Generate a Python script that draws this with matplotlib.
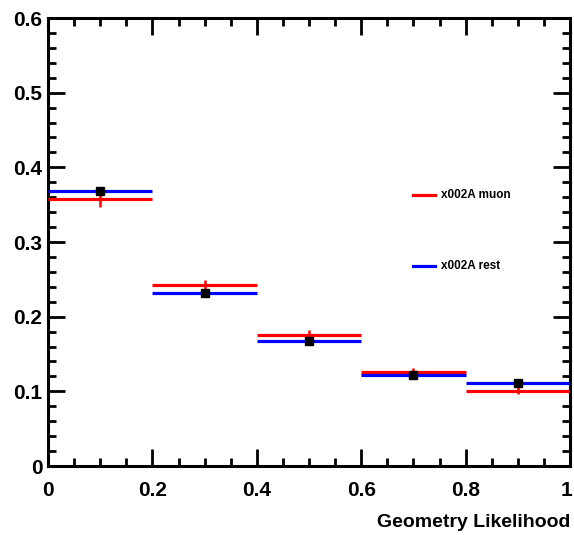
import matplotlib
matplotlib.use("Agg")
import matplotlib.pyplot as plt
from matplotlib.lines import Line2D
from matplotlib.ticker import MultipleLocator
import matplotlib.transforms as mtransforms
import numpy as np

bin_edges = [0.0, 0.2, 0.4, 0.6, 0.8, 1.0]
muon_vals = [0.357, 0.242, 0.176, 0.126, 0.101]
muon_errs = [0.010, 0.007, 0.006, 0.005, 0.005]
rest_vals = [0.368, 0.232, 0.167, 0.122, 0.111]
rest_errs = [0.005, 0.004, 0.004, 0.003, 0.004]
legend_labels = ["x002A muon", "x002A rest"]
xticks = [0, 0.2, 0.4, 0.6, 0.8, 1]
xtick_labels = ["0", "0.2", "0.4", "0.6", "0.8", "1"]
yticks = [0, 0.1, 0.2, 0.3, 0.4, 0.5, 0.6]
ytick_labels = ["0", "0.1", "0.2", "0.3", "0.4", "0.5", "0.6"]

plt.rcParams['font.family'] = ['Liberation Sans', 'DejaVu Sans']
plt.rcParams['font.weight'] = 'bold'

fig = plt.figure(figsize=(5.74, 5.35), dpi=100)
ax = fig.add_axes([48/574, (535-466)/535, 522/574, 448/535])

edges = np.array(bin_edges)
lo, hi = edges[:-1], edges[1:]
centers = (lo + hi) / 2

ax.hlines(muon_vals, lo, hi, colors='#ff0000', lw=2.3, zorder=3)
ax.errorbar(centers, muon_vals, yerr=muon_errs, fmt='none', ecolor='#ff0000', elinewidth=1.8, zorder=3)
ax.hlines(rest_vals, lo, hi, colors='#0000ff', lw=2.3, zorder=4)
ax.errorbar(centers, rest_vals, yerr=rest_errs, fmt='s', color='black', ms=6, elinewidth=1.5, zorder=5)

ax.set_xlim(0, 1)
ax.set_ylim(0, 0.6)
ax.set_xticks(xticks)
ax.set_xticklabels(xtick_labels)
ax.set_yticks(yticks)
ax.set_yticklabels(ytick_labels)
ax.xaxis.set_minor_locator(MultipleLocator(0.05))
ax.yaxis.set_minor_locator(MultipleLocator(0.02))
ax.tick_params(which='both', direction='in', top=True, right=True, width=2, labelsize=15, colors='black')
ax.tick_params(which='major', length=12)
ax.tick_params(which='minor', length=6)
ax.tick_params(axis='x', pad=11)
ax.tick_params(axis='y', pad=4)
for lab in ax.get_xticklabels() + ax.get_yticklabels():
    lab.set_fontweight('bold')
xl = ax.get_xticklabels()
xl[-1].set_transform(xl[-1].get_transform() + mtransforms.ScaledTranslation(-3/100, 0, fig.dpi_scale_trans))
for sp in ax.spines.values():
    sp.set_linewidth(2.2)

ax.set_xlabel("Geometry Likelihood", fontsize=14, fontweight='bold', loc='right', labelpad=10)

colors = ['#ff0000', '#0000ff']
ypos = [0.605, 0.446]
for lab, c, yp in zip(legend_labels, colors, ypos):
    ax.add_line(Line2D([0.699, 0.741], [yp, yp], transform=ax.transAxes, color=c, lw=2.3))
    ax.text(0.752, yp, lab, transform=ax.transAxes, fontsize=8.5, fontweight='bold', va='center', ha='left')

fig.savefig("out.png", dpi=100)
